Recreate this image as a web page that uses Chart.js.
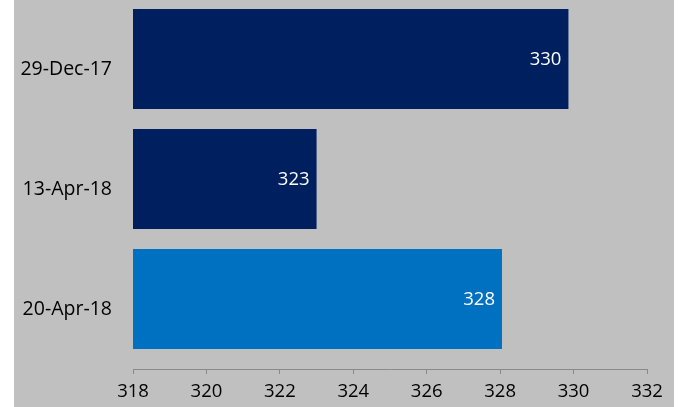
<!DOCTYPE html>
<html><head><meta charset="utf-8">
<script src="https://cdn.jsdelivr.net/npm/chart.js@4/dist/chart.umd.min.js"></script>
<style>
html,body{margin:0;padding:0;background:#fff;overflow:hidden;}
#wrap{position:absolute;left:14px;top:0;width:660px;height:407px;background:#c0c0c0;}
canvas{display:block;}
</style></head><body>
<div id="wrap"><canvas id="c" width="660" height="407"></canvas></div>
<script>
const categories = ['29-Dec-17', '13-Apr-18', '20-Apr-18'];
const values = [329.86, 323.0, 328.05];
const barColors = ['#001f5f', '#001f5f', '#0070c0'];
const xMin = 318, xMax = 332, xStep = 2;

const FONT = '"Open Sans", "DejaVu Sans", sans-serif';
const labelShift = 0.083;

const valueLabels = {
  id: 'valueLabels',
  afterDatasetsDraw(chart) {
    const ctx = chart.ctx;
    const meta = chart.getDatasetMeta(0);
    ctx.save();
    ctx.font = '18.5px ' + FONT;
    ctx.fillStyle = '#ffffff';
    ctx.textAlign = 'right';
    ctx.textBaseline = 'middle';
    meta.data.forEach((bar, i) => {
      ctx.fillText(String(Math.round(values[i])), bar.x - 7, bar.y + 1);
    });
    ctx.restore();
  }
};

new Chart(document.getElementById('c'), {
  type: 'bar',
  data: {
    datasets: [{
      data: values.map((v, i) => ({ x: v, y: i })),
      backgroundColor: barColors,
      borderWidth: 0,
      barPercentage: 0.833,
      categoryPercentage: 1
    }]
  },
  options: {
    indexAxis: 'y',
    responsive: false,
    animation: false,
    events: [],
    layout: { padding: { left: 0, right: 27, top: 0, bottom: 0 } },
    plugins: { legend: { display: false }, tooltip: { enabled: false } },
    scales: {
      x: {
        type: 'linear',
        min: xMin, max: xMax,
        ticks: { stepSize: xStep, color: '#000', font: { family: FONT, size: 18.5 }, padding: 7 },
        grid: { display: true, drawOnChartArea: false, drawTicks: true, tickLength: 5, color: '#8a8a8a', lineWidth: 1 },
        border: { display: true, color: '#8a8a8a', width: 1 },
        afterFit(s) { s.height = 38; s.paddingLeft = 0; s.paddingRight = 0; }
      },
      y: {
        type: 'linear',
        reverse: true,
        offset: false,
        bounds: 'data',
        grace: 0,
        min: -0.492, max: 2.583,
        afterDataLimits(s) { s.min = -0.492; s.max = 2.583; },
        afterBuildTicks(s) { s.ticks = categories.map((c, i) => ({ value: i + labelShift })); },
        ticks: {
          autoSkip: false,
          color: '#000',
          font: { family: FONT, size: 19.5 },
          padding: 21,
          callback: (v, i) => categories[i]
        },
        grid: { display: false, drawTicks: false, offset: false },
        border: { display: false },
        afterFit(s) { s.width = 119; s.paddingTop = 0; s.paddingBottom = 0; }
      }
    }
  },
  plugins: [valueLabels]
});
</script>
</body></html>
